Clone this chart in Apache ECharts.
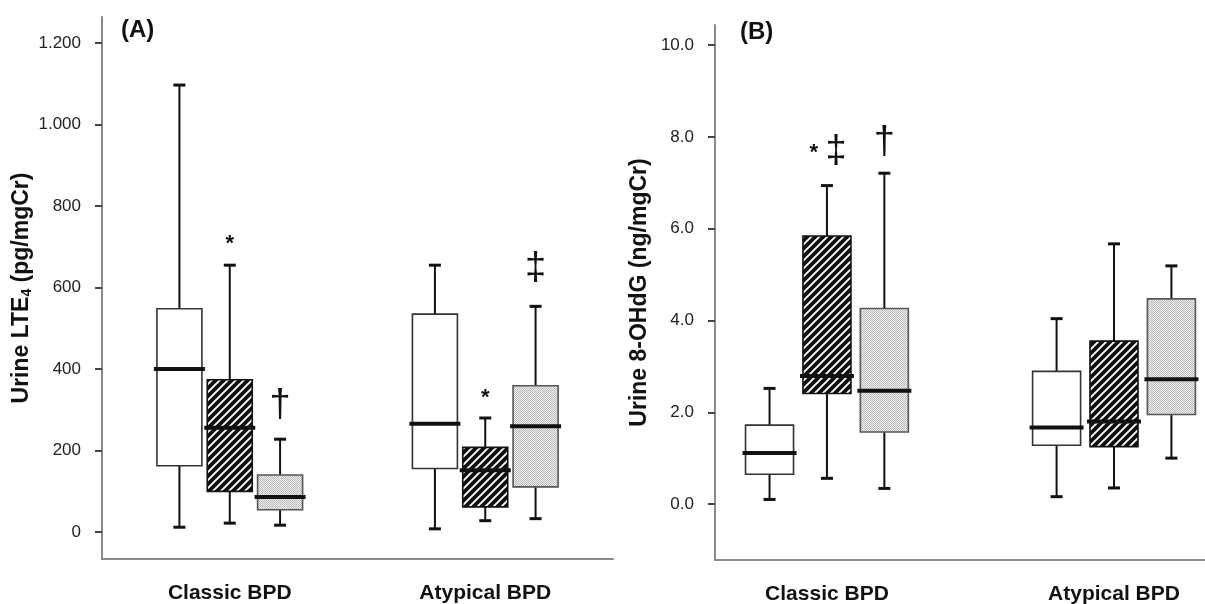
<!DOCTYPE html>
<html>
<head>
<meta charset="utf-8">
<script src="https://cdn.jsdelivr.net/npm/echarts@6/dist/echarts.min.js"></script>
<style>
  html, body { margin: 0; padding: 0; background: #fff; }
  #main { width: 1205px; height: 604px; }
</style>
</head>
<body>
<div id="main"></div>
<script>
// groups on the x axis
const groups = ['Classic BPD', 'Atypical BPD'];

// (A) urine LTE4, pg/mgCr: [min, Q1, median, Q3, max] per group
const lteOpen = [[12, 163, 400, 548, 1097], [8, 156, 266, 535, 655]];
const lteHatch = [[22, 100, 256, 374, 655], [28, 62, 152, 208, 280]];
const lteDots = [[17, 55, 86, 140, 228], [33, 111, 260, 359, 554]];

// (B) urine 8-OHdG, ng/mgCr
const ohdgOpen = [[0.10, 0.65, 1.11, 1.72, 2.52], [0.16, 1.28, 1.67, 2.89, 4.04]];
const ohdgHatch = [[0.56, 2.41, 2.79, 5.84, 6.94], [0.35, 1.25, 1.80, 3.55, 5.67]];
const ohdgDots = [[0.34, 1.57, 2.47, 4.26, 7.21], [1.00, 1.95, 2.72, 4.47, 5.19]];

// significance marks: [group, box slot, y, symbol]
const lteMarks = [[0, 1, 708, '*'], [0, 2, 311, '†'], [1, 1, 330, '*'], [1, 2, 647, '‡']];
const ohdgMarks = [[0, 0.77, 7.66, '*'], [0, 1.16, 7.68, '‡'], [0, 2, 7.88, '†']];

// tick labels
const lteTicks = [0, 200, 400, 600, 800, 1000, 1200];
const ohdgTicks = [0, 2, 4, 6, 8, 10];

const FONT = 'Liberation Sans, Arial, sans-serif';

function hatchImage() {
    const c = document.createElement('canvas');
    c.width = 8; c.height = 8;
    const g = c.getContext('2d');
    g.fillStyle = '#111';
    g.fillRect(0, 0, 8, 8);
    g.strokeStyle = '#fff';
    g.lineWidth = 1.9;
    g.beginPath();
    g.moveTo(-2, 10); g.lineTo(10, -2);
    g.moveTo(-2, 2); g.lineTo(2, -2);
    g.moveTo(6, 10); g.lineTo(10, 6);
    g.stroke();
    return c;
}

function dotImage() {
    const c = document.createElement('canvas');
    c.width = 2; c.height = 2;
    const g = c.getContext('2d');
    g.fillStyle = '#f2f2f2';
    g.fillRect(0, 0, 2, 2);
    g.fillStyle = '#b8b8b8';
    g.fillRect(0, 0, 1, 1);
    g.fillRect(1, 1, 1, 1);
    return c;
}

const hatchFill = { image: hatchImage(), repeat: 'repeat' };
const dotFill = { image: dotImage(), repeat: 'repeat' };

function line(x1, y1, x2, y2, w) {
    return { type: 'line', shape: { x1, y1, x2, y2 }, style: { stroke: '#111', lineWidth: w } };
}

// box + whiskers, slot 0/1/2 inside a group
function boxRender(slot, step, boxW, fill, stroke) {
    return function (params, api) {
        const x = api.value(0) + (slot - 1) * step;
        const lo = api.coord([x, api.value(1)]);
        const q1 = api.coord([x, api.value(2)]);
        const md = api.coord([x, api.value(3)]);
        const q3 = api.coord([x, api.value(4)]);
        const hi = api.coord([x, api.value(5)]);
        const cx = lo[0];
        const hw = boxW / 2;
        return {
            type: 'group',
            children: [
                line(cx, lo[1], cx, q1[1], 2),
                line(cx, q3[1], cx, hi[1], 2),
                line(cx - 6, lo[1], cx + 6, lo[1], 3),
                line(cx - 6, hi[1], cx + 6, hi[1], 3),
                {
                    type: 'rect',
                    shape: { x: cx - hw, y: q3[1], width: boxW, height: q1[1] - q3[1] },
                    style: { fill: fill, stroke: stroke, lineWidth: 1.6 }
                },
                line(cx - hw - 3, md[1], cx + hw + 3, md[1], 4)
            ]
        };
    };
}

function markRender(marks, step) {
    return function (params, api) {
        const m = marks[params.dataIndex];
        const p = api.coord([api.value(0) + (api.value(1) - 1) * step, api.value(2)]);
        const isStar = m[3] === '*';
        return {
            type: 'text',
            x: p[0],
            y: p[1],
            style: {
                text: m[3],
                fill: '#111',
                font: (isStar ? 'bold 22px ' : '38px ') + FONT,
                align: 'center',
                verticalAlign: 'middle'
            }
        };
    };
}

function boxSeries(gridIdx, stats, slot, step, boxW, fill, stroke) {
    return {
        type: 'custom',
        xAxisIndex: gridIdx,
        yAxisIndex: gridIdx,
        silent: true,
        encode: { x: 0, y: [1, 2, 3, 4, 5] },
        data: stats.map((d, i) => [i + 1].concat(d)),
        renderItem: boxRender(slot, step, boxW, fill, stroke)
    };
}

function markSeries(gridIdx, marks, step) {
    return {
        type: 'custom',
        xAxisIndex: gridIdx,
        yAxisIndex: gridIdx,
        silent: true,
        encode: { x: 0, y: 2 },
        data: marks.map(m => [m[0] + 1, m[1], m[2]]),
        renderItem: markRender(marks, step)
    };
}

const axisLine = { show: true, onZero: false, lineStyle: { color: '#8a8a8a', width: 2 } };

function xAxis(gridIdx, min, max) {
    return {
        gridIndex: gridIdx,
        type: 'value',
        min: min,
        max: max,
        axisLine: axisLine,
        axisTick: { show: false },
        splitLine: { show: false },
        axisLabel: {
            customValues: [1, 2],
            formatter: v => groups[Math.round(v) - 1],
            margin: 24,
            fontFamily: FONT,
            fontSize: 21,
            fontWeight: 'bold',
            color: '#111'
        }
    };
}

function yAxis(gridIdx, min, max, ticks, fmt, name, gap) {
    return {
        gridIndex: gridIdx,
        type: 'value',
        min: min,
        max: max,
        axisLine: axisLine,
        axisTick: { show: true, length: 7, customValues: ticks, lineStyle: { color: '#444', width: 2 } },
        splitLine: { show: false },
        axisLabel: {
            customValues: ticks,
            formatter: fmt,
            margin: 21,
            fontFamily: FONT,
            fontSize: 17,
            color: '#222'
        },
        name: name,
        nameLocation: 'middle',
        nameGap: gap,
        nameRotate: 90,
        nameTextStyle: {
            rich: {
                t: { fontFamily: FONT, fontSize: 23, fontWeight: 'bold', color: '#111' },
                s: { fontFamily: FONT, fontSize: 14, fontWeight: 'bold', color: '#111', padding: [12, 0, 0, 0] }
            }
        }
    };
}

const fmtLte = v => (v >= 1000 ? Math.floor(v / 1000) + '.' + String(v % 1000).padStart(3, '0') : String(v));
const fmtOhdg = v => v.toFixed(1);

const chart = echarts.init(document.getElementById('main'));
chart.setOption({
    animation: false,
    backgroundColor: '#fff',
    title: [
        { text: '(A)', left: 121, top: 18, padding: 0, textStyle: { fontFamily: FONT, fontSize: 24, fontWeight: 'bold', color: '#111' } },
        { text: '(B)', left: 740, top: 20, padding: 0, textStyle: { fontFamily: FONT, fontSize: 24, fontWeight: 'bold', color: '#111' } }
    ],
    grid: [
        { left: 102, right: 592, top: 17, bottom: 45, outerBoundsMode: 'none' },
        { left: 715, right: 0, top: 25, bottom: 44, outerBoundsMode: 'none' }
    ],
    xAxis: [
        xAxis(0, 0.5, 2.5),
        xAxis(1, 0.61, 2.317)
    ],
    yAxis: [
        yAxis(0, -66, 1264, lteTicks, fmtLte, '{t|Urine LTE}{s|4}{t| (pg/mgCr)}', 67),
        yAxis(1, -1.22, 10.44, ohdgTicks, fmtOhdg, '{t|Urine 8-OHdG (ng/mgCr)}', 64)
    ],
    series: [
        boxSeries(0, lteOpen, 0, 0.197, 45, '#fff', '#333'),
        boxSeries(0, lteHatch, 1, 0.197, 45, hatchFill, '#111'),
        boxSeries(0, lteDots, 2, 0.197, 45, dotFill, '#555'),
        markSeries(0, lteMarks, 0.197),
        boxSeries(1, ohdgOpen, 0, 0.2, 48, '#fff', '#333'),
        boxSeries(1, ohdgHatch, 1, 0.2, 48, hatchFill, '#111'),
        boxSeries(1, ohdgDots, 2, 0.2, 48, dotFill, '#555'),
        markSeries(1, ohdgMarks, 0.2)
    ]
});
</script>
</body>
</html>
